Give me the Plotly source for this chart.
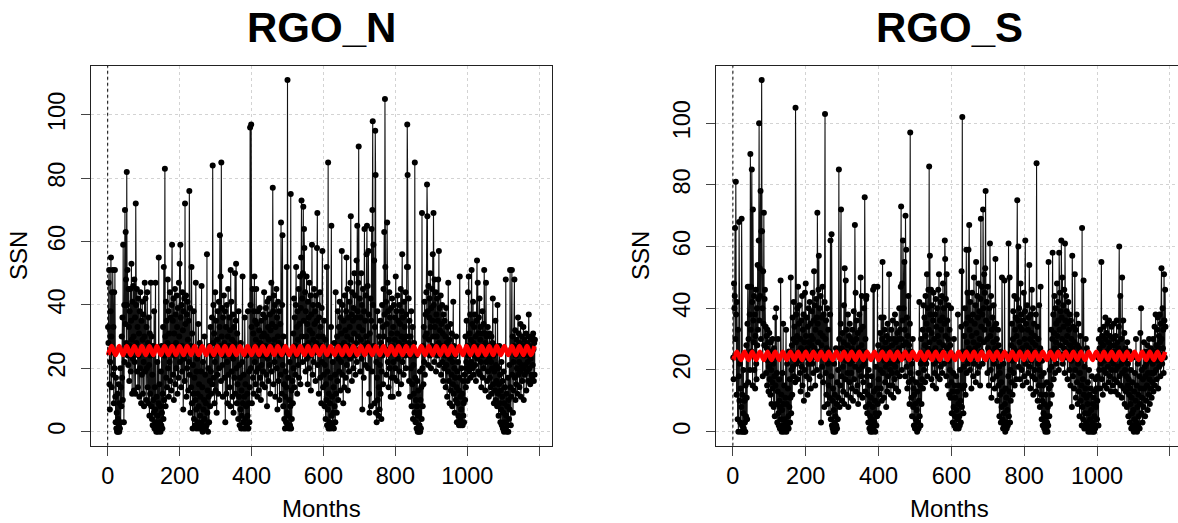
import plotly.graph_objects as go

# monthly values (36 months per row)
ssn_north_rows = [
    [33,28,47,51,15,7,22,38,55,30,14,44,25,51,18,33,9,44,20,51,11,3,17,1,6,0,12,0,4,15,2,0,9,1,20,3],
    [14,8,30,17,36,10,59,25,3,40,22,70,34,63,48,28,82,40,51,24,21,45,33,16,38,27,45,19,35,53,29,12,41,23,46,30],
    [13,48,22,36,12,72,40,28,45,19,33,14,42,24,31,11,38,20,44,26,9,35,18,41,29,12,37,22,8,30,47,19,42,25,10,33],
    [20,44,14,28,9,36,21,5,31,12,24,47,8,30,4,18,2,27,10,6,38,1,14,7,47,3,0,11,2,22,5,0,9,55,1,15],
    [3,8,0,19,2,27,6,1,12,33,4,52,10,24,83,30,8,41,17,35,14,28,48,20,38,11,31,22,44,16,36,25,13,40,59,27],
    [35,18,42,10,31,24,45,15,37,28,20,43,33,12,39,26,17,47,30,53,22,59,36,14,40,27,19,44,32,7,38,23,42,16,72,34],
    [25,43,11,37,20,41,29,13,35,22,76,18,39,6,27,14,52,9,31,1,21,12,38,4,17,26,2,10,47,7,19,1,23,12,3,34],
    [8,15,1,28,5,11,2,19,46,3,14,0,22,7,1,10,30,4,18,1,9,25,2,56,6,13,0,20,11,3,27,16,8,33,19,12],
    [24,36,15,84,28,40,17,31,9,22,44,13,35,26,6,29,18,38,12,25,41,20,33,62,27,49,16,85,30,39,21,11,36,24,43,28],
    [17,38,3,26,33,12,40,22,9,30,45,18,27,36,14,32,8,51,24,41,19,29,11,37,23,6,33,17,28,50,12,35,53,20,9,31],
    [15,26,4,38,11,21,2,17,7,28,1,13,5,22,49,9,3,18,1,11,36,4,15,1,8,24,2,12,5,38,1,9,19,3,14,96],
    [40,20,97,33,9,26,45,17,31,12,38,49,22,35,15,29,45,19,34,11,27,38,20,13,32,24,39,17,28,10,35,21,30,15,26,37],
    [19,31,44,24,14,36,27,39,18,30,8,41,23,33,16,29,42,21,37,12,32,25,47,19,34,27,77,38,15,43,29,22,40,11,33,26],
    [45,20,36,7,30,41,16,28,38,10,24,34,18,66,27,12,40,62,21,8,30,15,4,25,1,11,19,3,14,52,6,111,2,17,5,1],
    [10,22,2,8,75,1,13,4,25,16,9,31,20,42,14,36,27,18,40,52,24,33,12,38,29,21,45,17,34,26,49,15,39,55,73,30],
    [42,22,50,71,35,64,58,27,44,19,38,30,49,23,34,15,41,28,36,20,47,32,24,43,13,37,26,59,31,18,40,29,22,45,34,25],
    [38,16,43,28,35,58,69,21,40,30,12,36,25,44,17,33,27,9,39,22,57,30,14,26,18,35,8,21,29,4,15,10,52,2,19,7],
    [85,1,12,24,3,9,1,17,33,65,5,11,2,22,6,14,1,28,8,18,3,44,12,25,6,30,16,38,10,23,33,19,41,27,13,36],
    [22,31,57,18,40,26,9,35,28,14,43,24,32,17,38,55,21,30,45,13,36,27,19,41,33,23,47,68,29,37,16,44,26,35,20,39],
    [31,50,24,43,18,36,28,54,22,65,38,30,47,90,33,26,42,19,36,29,50,23,40,7,32,45,27,17,38,64,25,35,21,43,30,56],
    [65,28,46,20,57,37,12,6,31,25,42,8,35,64,19,70,98,40,59,27,54,9,33,95,81,6,22,3,17,38,10,26,5,14,30,7],
    [21,35,12,28,4,19,40,24,33,15,45,30,63,37,105,52,26,41,18,34,66,47,22,38,14,29,44,20,36,25,11,39,31,17,42,27],
    [11,33,22,40,17,29,36,20,49,26,38,16,31,43,23,35,12,28,40,19,34,25,45,15,30,38,56,22,36,27,18,41,29,33,24,44],
    [20,37,30,52,97,81,52,28,42,16,35,24,11,30,20,38,8,26,15,33,4,21,12,28,6,85,17,3,10,24,1,8,16,0,5,13],
    [0,6,2,19,0,10,1,14,4,69,20,8,27,15,33,22,41,18,30,37,25,44,31,78,68,38,21,46,29,36,42,24,50,33,20,39],
    [27,45,35,56,30,69,40,22,48,33,26,44,19,37,30,42,24,35,48,28,57,21,39,32,25,43,18,34,27,40,22,31,16,37,26,20],
    [35,24,30,14,39,21,28,11,33,19,47,25,16,29,9,23,34,13,26,18,31,8,22,15,41,12,27,20,6,17,24,10,30,14,3,19],
    [9,22,5,13,2,17,49,4,11,2,7,20,3,12,2,16,5,9,3,18,25,10,30,14,22,35,20,27,16,44,24,49,19,31,21,37],
    [17,29,22,51,26,34,20,41,28,18,33,24,37,21,30,16,35,27,54,23,47,31,19,36,25,42,18,29,33,22,14,31,24,38,17,27],
    [34,20,51,25,31,13,28,47,22,30,16,25,33,19,27,11,23,31,17,26,14,22,30,12,20,28,42,15,24,9,19,27,13,35,10,21],
    [16,25,8,40,12,20,5,15,27,9,18,3,13,7,22,2,11,16,1,6,19,0,9,3,14,1,48,5,12,0,8,2,17,0,10,4],
    [21,7,51,14,2,26,11,51,18,30,6,22,13,27,48,17,32,10,24,15,29,20,12,26,36,18,31,22,14,28,19,34,11,25,21,30],
    [16,27,20,33,10,24,29,18,26,21,31,13,25,19,28,22,16,30,37,24,20,27,15,23,29,18,25,17,30,21,31,26,16,28,18,29],
]

ssn_south_rows = [
    [24,17,48,40,44,66,30,81,38,12,42,25,4,33,0,18,68,10,22,3,14,0,8,69,2,12,0,6,20,1,0,10,3,0,15,5],
    [28,11,4,35,47,16,30,25,47,38,20,90,33,47,26,85,42,15,72,36,29,44,20,38,14,31,46,22,17,40,28,54,33,43,62,100],
    [36,53,44,78,30,65,114,65,40,18,52,35,71,28,43,46,24,34,19,31,27,15,33,23,29,13,21,32,17,26,12,29,20,9,24,16],
    [30,14,22,8,27,18,5,37,15,24,40,9,19,3,13,30,6,2,17,10,1,8,49,4,12,0,7,19,2,35,9,0,15,4,1,11],
    [3,33,0,9,22,2,14,5,1,26,8,17,3,11,50,6,20,28,12,37,21,30,42,18,34,25,16,105,29,38,22,31,40,17,47,26],
    [35,23,41,19,30,13,27,36,21,44,15,33,26,38,10,29,20,45,24,48,31,18,37,27,12,34,22,40,29,17,42,25,35,14,31,28],
    [39,22,45,30,19,36,52,27,41,15,33,24,43,37,20,71,35,29,46,57,26,40,18,32,44,3,28,37,21,47,31,16,38,25,8,42],
    [103,30,19,36,12,27,40,9,22,33,15,6,26,11,38,62,4,18,64,2,10,1,14,0,7,22,3,12,0,5,27,2,9,1,16,4],
    [20,11,85,30,8,24,15,35,72,18,27,10,32,21,13,29,41,9,53,26,17,49,23,33,12,28,19,38,8,25,31,16,35,22,11,30],
    [19,27,14,33,23,10,29,39,17,26,67,21,45,13,30,36,24,15,32,9,27,20,38,12,25,33,50,18,28,44,21,11,34,16,26,40],
    [22,76,13,30,8,43,44,18,6,25,12,3,20,9,1,15,5,0,11,2,18,4,0,8,46,1,13,47,3,10,0,6,21,2,14,5],
    [47,9,28,17,6,24,12,32,20,14,37,26,10,30,55,19,27,37,11,23,33,16,29,21,8,31,24,13,35,18,27,22,51,15,30,20],
    [25,12,33,19,28,15,36,22,11,30,24,17,38,21,29,14,35,26,19,32,23,13,30,27,40,18,33,25,47,73,30,20,48,36,62,28],
    [40,24,55,33,18,70,29,59,21,37,14,31,25,44,16,28,9,35,97,19,26,11,22,5,17,30,8,14,2,12,24,1,9,4,16,1],
    [7,0,13,3,19,1,10,42,5,15,2,22,30,9,25,17,33,14,41,24,20,37,28,16,44,31,22,35,51,18,40,27,46,33,86,29],
    [57,38,24,46,17,32,41,26,15,36,45,22,30,19,38,27,43,14,34,25,40,18,31,46,23,51,29,17,36,42,21,33,26,44,19,37],
    [48,28,40,22,35,62,56,31,43,18,51,27,36,15,30,41,23,12,33,20,28,11,40,16,6,25,13,3,19,8,30,2,15,5,11,1],
    [18,7,2,13,4,38,9,1,15,5,2,20,10,3,34,52,8,102,14,26,6,21,31,15,40,24,12,35,59,19,29,45,22,37,59,27],
    [67,33,20,42,26,36,14,31,45,24,38,18,29,50,22,35,27,41,16,55,32,25,44,19,37,28,48,21,39,30,15,43,69,34,26,47],
    [38,22,72,40,29,51,33,45,53,78,36,24,42,30,19,47,27,35,15,40,26,61,31,20,44,11,33,24,37,17,29,41,22,34,14,27],
    [56,25,35,18,30,10,24,33,15,28,21,5,19,12,26,3,16,8,50,4,13,1,22,6,2,49,9,0,14,3,11,1,25,7,2,18],
    [61,5,13,50,3,20,10,28,16,35,23,12,30,39,19,27,44,15,33,24,37,17,31,43,75,26,36,60,21,40,29,17,34,48,25,38],
    [20,33,27,15,36,24,45,18,30,39,62,22,35,28,16,41,25,33,19,37,27,54,21,30,14,38,23,32,46,18,29,40,12,26,35,20],
    [31,17,28,38,13,87,25,34,10,22,30,15,41,20,8,27,47,12,18,4,23,10,2,15,6,19,1,9,3,0,12,5,1,16,3,0],
    [8,2,55,14,5,20,9,26,15,33,21,12,30,58,24,38,17,32,44,27,19,40,29,35,22,48,31,26,42,36,20,58,33,45,28,39],
    [25,62,37,30,50,22,41,34,27,46,19,61,36,29,44,24,39,31,17,35,42,26,33,20,38,28,15,36,23,30,8,57,27,18,34,24],
    [14,29,51,20,33,11,25,38,16,28,9,22,35,13,27,5,19,31,10,24,15,2,66,8,17,4,49,12,1,21,6,14,30,3,11,27],
    [2,9,16,0,6,20,1,12,4,0,14,7,1,18,3,0,9,2,11,0,5,13,1,17,8,2,14,4,10,18,24,2,30,20,27,14],
    [33,22,29,55,17,31,25,12,28,20,34,23,15,30,37,19,26,32,14,24,35,21,29,16,36,27,18,31,23,13,28,34,20,26,15,30],
    [22,35,17,28,24,13,31,20,26,36,16,29,21,12,27,34,60,18,25,44,15,30,22,11,50,19,26,36,14,23,32,9,20,27,13,24],
    [18,8,29,15,22,5,17,12,26,3,14,9,20,1,11,6,16,2,24,7,0,13,4,19,1,10,30,3,15,0,8,22,2,12,5,18],
    [1,9,32,14,40,6,20,11,3,17,25,8,29,14,21,5,18,26,10,22,15,28,7,19,24,12,30,17,9,23,14,27,19,11,25,16],
    [22,30,13,26,19,34,15,24,38,20,28,17,33,23,37,14,27,31,21,38,29,18,35,25,53,30,22,40,27,33,19,51,36,24,46,34],
]

# red fitted curve: turning points (month, value)
fit_months = [1, 11, 22, 32, 43, 53, 64, 74, 85, 95, 106, 116, 127, 137, 148, 158, 169, 179, 190, 200,
              211, 221, 232, 242, 253, 263, 274, 284, 295, 305, 316, 326, 337, 347, 358, 368, 379, 389, 400, 410,
              421, 431, 442, 452, 463, 473, 484, 494, 505, 515, 526, 536, 547, 557, 568, 578, 589, 599, 610, 620,
              631, 641, 652, 662, 673, 683, 694, 704, 715, 725, 736, 746, 757, 767, 778, 788, 799, 809, 820, 830,
              841, 851, 862, 872, 883, 893, 904, 914, 925, 935, 946, 956, 967, 977, 988, 998, 1009, 1019, 1030, 1040,
              1051, 1061, 1072, 1082, 1093, 1103, 1114, 1124, 1135, 1145, 1156, 1166, 1177, 1187]
fit_north = [24.2, 27.0, 24.2, 27.0, 24.2, 27.0, 24.2, 27.0, 24.2, 27.0, 24.2, 27.0, 24.2, 27.0, 24.2, 27.0, 24.2, 27.0, 24.2, 27.0,
             24.2, 27.0, 24.2, 27.0, 24.2, 27.0, 24.2, 27.0, 24.2, 27.0, 24.2, 27.0, 24.2, 27.0, 24.2, 27.0, 24.2, 27.0, 24.2, 27.0,
             24.2, 27.0, 24.2, 27.0, 24.2, 27.0, 24.2, 27.0, 24.2, 27.0, 24.2, 27.0, 24.2, 27.0, 24.2, 27.0, 24.2, 27.0, 24.2, 27.0,
             24.2, 27.0, 24.2, 27.0, 24.2, 27.0, 24.2, 27.0, 24.2, 27.0, 24.2, 27.0, 24.2, 27.0, 24.2, 27.0, 24.2, 27.0, 24.2, 27.0,
             24.2, 27.0, 24.2, 27.0, 24.2, 27.0, 24.2, 27.0, 24.2, 27.0, 24.2, 27.0, 24.2, 27.0, 24.2, 27.0, 24.2, 27.0, 24.2, 27.0,
             24.2, 27.0, 24.2, 27.0, 24.2, 27.0, 24.2, 27.0, 24.2, 27.0, 24.2, 27.0, 24.2, 27.0]
fit_south = [23.2, 25.9, 23.2, 25.9, 23.2, 25.9, 23.2, 25.9, 23.2, 25.9, 23.2, 25.9, 23.2, 25.9, 23.2, 25.9, 23.2, 25.9, 23.2, 25.9,
             23.2, 25.9, 23.2, 25.9, 23.2, 25.9, 23.2, 25.9, 23.2, 25.9, 23.2, 25.9, 23.2, 25.9, 23.2, 25.9, 23.2, 25.9, 23.2, 25.9,
             23.2, 25.9, 23.2, 25.9, 23.2, 25.9, 23.2, 25.9, 23.2, 25.9, 23.2, 25.9, 23.2, 25.9, 23.2, 25.9, 23.2, 25.9, 23.2, 25.9,
             23.2, 25.9, 23.2, 25.9, 23.2, 25.9, 23.2, 25.9, 23.2, 25.9, 23.2, 25.9, 23.2, 25.9, 23.2, 25.9, 23.2, 25.9, 23.2, 25.9,
             23.2, 25.9, 23.2, 25.9, 23.2, 25.9, 23.2, 25.9, 23.2, 25.9, 23.2, 25.9, 23.2, 25.9, 23.2, 25.9, 23.2, 25.9, 23.2, 25.9,
             23.2, 25.9, 23.2, 25.9, 23.2, 25.9, 23.2, 25.9, 23.2, 25.9, 23.2, 25.9, 23.2, 25.9]

x_ticks = [0, 200, 400, 600, 800, 1000, 1200]
x_tick_text = ["0", "200", "400", "600", "800", "1000", ""]
y_ticks = [0, 20, 40, 60, 80, 100]

ssn_north = [v for row in ssn_north_rows for v in row]
ssn_south = [v for row in ssn_south_rows for v in row]
months_n = list(range(1, len(ssn_north) + 1))
months_s = list(range(1, len(ssn_south) + 1))

W, H = 1178, 523
FONT = "Liberation Sans, Arial, sans-serif"


def px(x):
    return x / W


def py(y):
    return 1 - y / H


fig = go.Figure()

for series, months, fit, xa, ya in [(ssn_north, months_n, fit_north, "x", "y"),
                                    (ssn_south, months_s, fit_south, "x2", "y2")]:
    fig.add_trace(go.Scatter(x=months, y=series, mode="lines+markers",
                             line=dict(color="#111111", width=1.1),
                             marker=dict(color="black", size=6),
                             xaxis=xa, yaxis=ya, hoverinfo="skip"))
    fig.add_trace(go.Scatter(x=fit_months[:len(fit)], y=fit, mode="lines",
                             line=dict(color="#ff0000", width=4.5, shape="spline", smoothing=1),
                             xaxis=xa, yaxis=ya, hoverinfo="skip"))

axis_common = dict(showline=True, linecolor="#222", linewidth=1.2,
                   ticks="outside", ticklen=9, tickcolor="#444", tickwidth=1,
                   showgrid=True, gridcolor="#d3d3d3", griddash="dot", gridwidth=1,
                   zeroline=False, tickfont=dict(family=FONT, size=23.5, color="black"))

ydom = [py(445.7), py(66)]

fig.update_layout(
    width=W, height=H,
    margin=dict(l=0, r=0, t=0, b=0),
    paper_bgcolor="white", plot_bgcolor="white",
    showlegend=False,
    xaxis=dict(domain=[px(90.8), px(551.7)], range=[-47, 1234.7], anchor="y",
               tickvals=x_ticks, ticktext=x_tick_text, mirror=True, **axis_common),
    yaxis=dict(domain=ydom, range=[-4.44, 115.44], anchor="x", ticklabelstandoff=6,
               tickvals=y_ticks, tickangle=-90, mirror=True, **axis_common),
    xaxis2=dict(domain=[px(715.6), 1.0], range=[-47.5, 1222.4], anchor="y2",
                tickvals=x_ticks, ticktext=x_tick_text, mirror=True, **axis_common),
    yaxis2=dict(domain=ydom, range=[-4.56, 118.56], anchor="x2", ticklabelstandoff=6,
                tickvals=y_ticks, tickangle=-90, mirror=False, **axis_common),
)

# dotted reference line at month 0 in both panels
for xr, yr in [("x", "y domain"), ("x2", "y2 domain")]:
    fig.add_shape(type="line", xref=xr, yref=yr, x0=0, x1=0, y0=0, y1=1,
                  line=dict(color="black", width=1, dash="dot"))

# titles and axis labels
for cx, title, lx in [(321.2, "RGO_N", 18), (949, "RGO_S", 640)]:
    fig.add_annotation(x=px(cx), y=py(28), xref="paper", yref="paper", text="<b>%s</b>" % title,
                       showarrow=False, xanchor="center", yanchor="middle",
                       font=dict(family=FONT, size=42, color="black"))
    fig.add_annotation(x=px(cx), y=0, xref="paper", yref="paper", text="Months",
                       showarrow=False, xanchor="center", yanchor="bottom", borderpad=0,
                       font=dict(family=FONT, size=24, color="black"))
    fig.add_annotation(x=px(lx), y=py(256), xref="paper", yref="paper", text="SSN",
                       showarrow=False, xanchor="center", yanchor="middle", textangle=-90,
                       font=dict(family=FONT, size=24, color="black"))

# drop the default page margin so the figure sits at the window's top-left corner
fig.write_html("out.html", config={"displayModeBar": False},
               post_script="document.body.style.margin = '0px';")
